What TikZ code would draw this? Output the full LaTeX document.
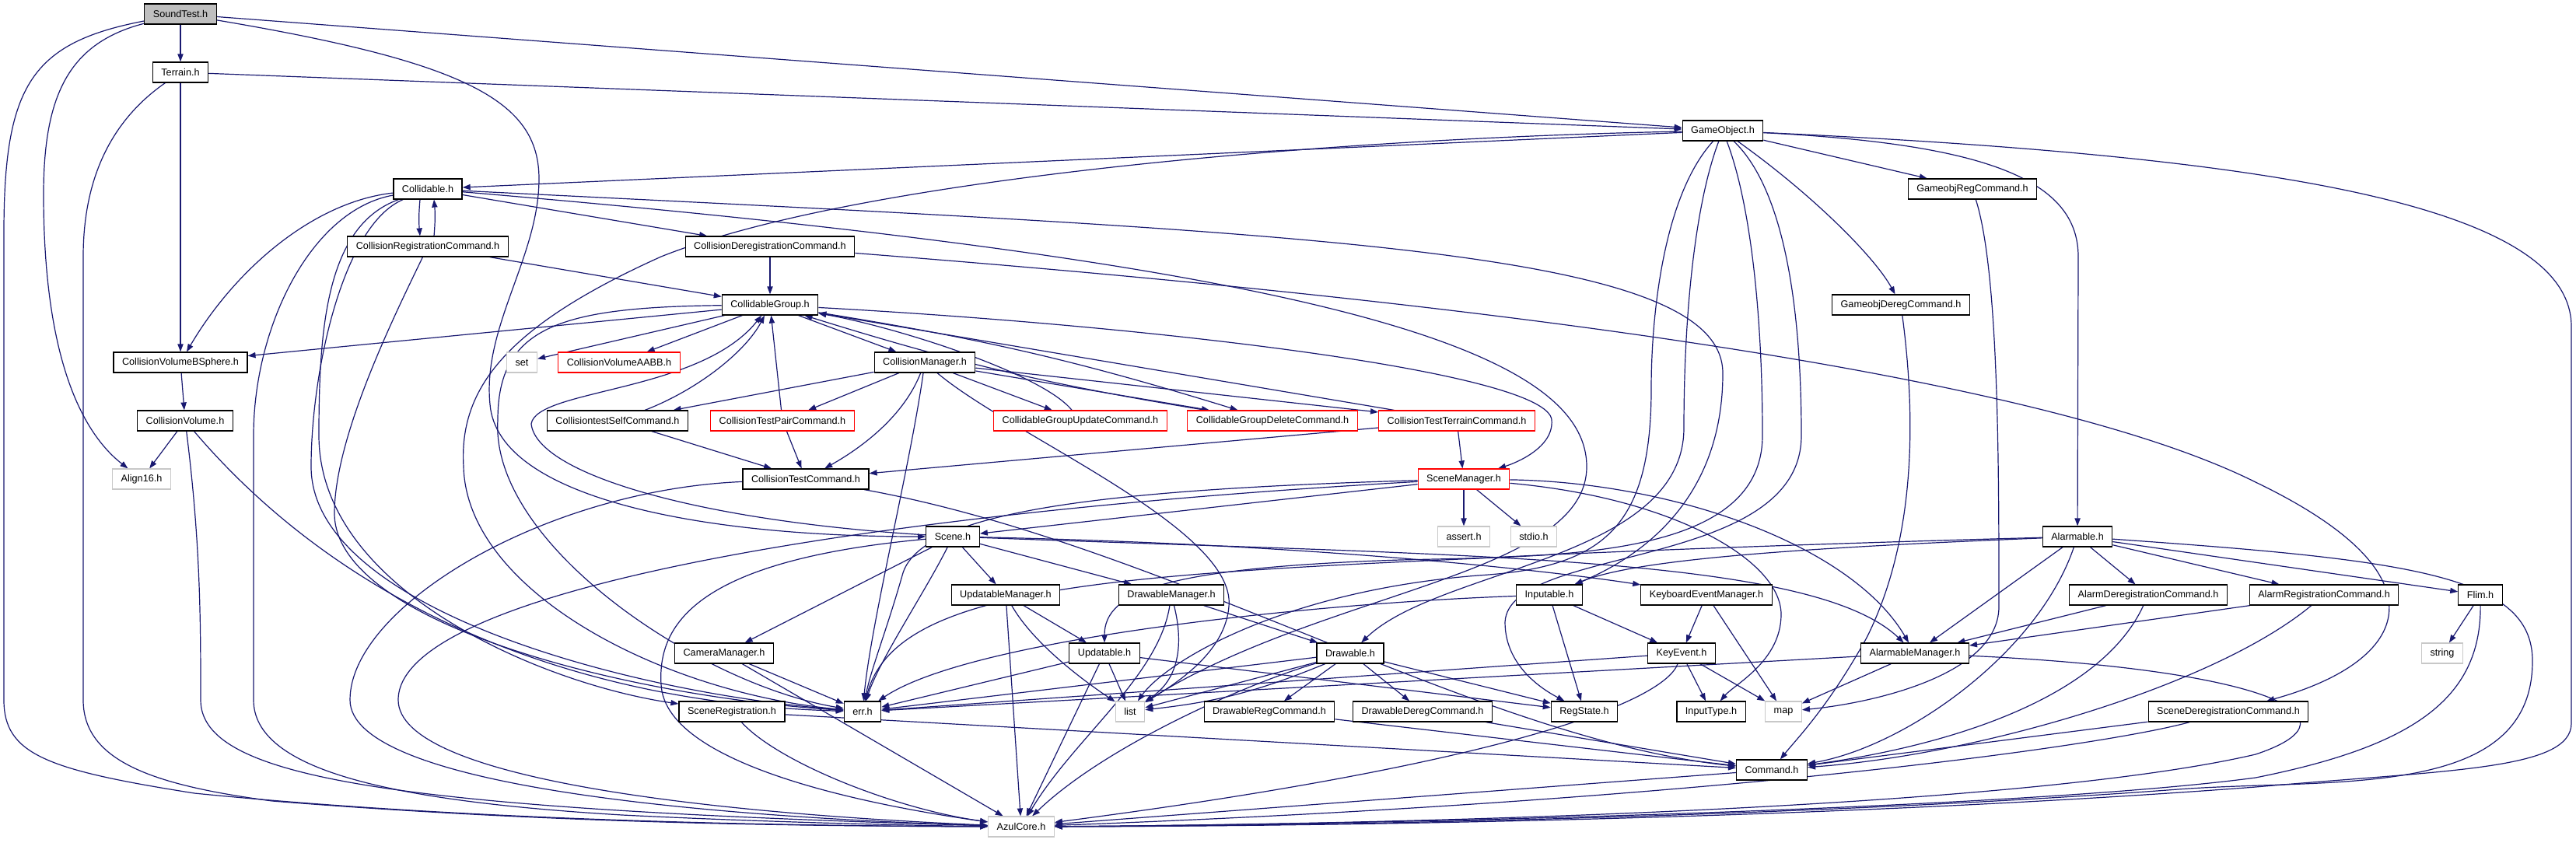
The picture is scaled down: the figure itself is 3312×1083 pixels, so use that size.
\documentclass[tikz,border=0pt]{standalone}
\usepackage{fontspec}
\setmainfont{Liberation Sans}
\usetikzlibrary{arrows.meta}
\definecolor{edgeblue}{HTML}{191970}
\definecolor{rootgray}{HTML}{BFBFBF}
\definecolor{sysgray}{HTML}{C8C8C8}
\pgfdeclarelayer{edges}
\pgfsetlayers{edges,main}

\begin{document}
\begin{tikzpicture}[
    x=0.5pt, y=-0.5pt,
    every node/.style={font=\fontsize{6.33}{7.6}\selectfont},
    file/.style={rectangle, draw=black, line width=0.6pt, fill=white, minimum height=13pt, inner xsep=5.5pt, inner ysep=0pt},
    root/.style={file, fill=rootgray},
    sysfile/.style={file, draw=sysgray},
    trunc/.style={file, draw=red},
    dep/.style={draw=edgeblue, line width=0.6pt, -{Triangle[length=5pt, width=3.6pt]}}
]
\useasboundingbox (0,0) rectangle (3312,1083);

% -------------------------
% Headers, rows 1-6
% -------------------------
    \node[root] (soundtest) at (232,18) {SoundTest.h};
    \node[file] (terrain) at (232,93) {Terrain.h};
    \node[file] (gameobject) at (2215,168) {GameObject.h};
    \node[file] (collidable) at (550,243) {Collidable.h};
    \node[file] (gameobjreg) at (2536,243) {GameobjRegCommand.h};
    \node[file] (collreg) at (550,317) {CollisionRegistrationCommand.h};
    \node[file] (colldereg) at (990,317) {CollisionDeregistrationCommand.h};
    \node[file] (collgroup) at (990,392) {CollidableGroup.h};
    \node[file] (gameobjdereg) at (2444,392) {GameobjDeregCommand.h};

% -------------------------
% Rows 7-9
% -------------------------
    \node[file] (bsphere) at (232,466) {CollisionVolumeBSphere.h};
    \node[sysfile] (set) at (671,466) {set};
    \node[trunc] (aabb) at (796,466) {CollisionVolumeAABB.h};
    \node[file] (collmgr) at (1189,466) {CollisionManager.h};
    \node[file] (collvolume) at (238,541) {CollisionVolume.h};
    \node[file] (selfcmd) at (794,541) {CollisiontestSelfCommand.h};
    \node[trunc] (paircmd) at (1006,541) {CollisionTestPairCommand.h};
    \node[trunc] (grpupdate) at (1389,541) {CollidableGroupUpdateCommand.h};
    \node[trunc] (grpdelete) at (1636,541) {CollidableGroupDeleteCommand.h};
    \node[trunc] (terraincmd) at (1873,541) {CollisionTestTerrainCommand.h};
    \node[sysfile] (align) at (182,616) {Align16.h};
    \node[file] (testcmd) at (1036,616) {CollisionTestCommand.h};
    \node[trunc] (scenemgr) at (1882,616) {SceneManager.h};

% -------------------------
% Rows 10-12
% -------------------------
    \node[file] (scene) at (1225,690) {Scene.h};
    \node[sysfile] (assert) at (1882,690) {assert.h};
    \node[sysfile] (stdio) at (1972,690) {stdio.h};
    \node[file] (alarmable) at (2671,690) {Alarmable.h};
    \node[file] (updmgr) at (1293,765) {UpdatableManager.h};
    \node[file] (drwmgr) at (1506,765) {DrawableManager.h};
    \node[file] (inputable) at (1992,765) {Inputable.h};
    \node[file] (keybmgr) at (2194,765) {KeyboardEventManager.h};
    \node[file] (alarmdereg) at (2762,765) {AlarmDeregistrationCommand.h};
    \node[file] (alarmreg) at (2988,765) {AlarmRegistrationCommand.h};
    \node[file] (flim) at (3189,765) {Flim.h};
    \node[file] (cameramgr) at (931,840) {CameraManager.h};
    \node[file] (updatable) at (1420,840) {Updatable.h};
    \node[file] (drawable) at (1736,840) {Drawable.h};
    \node[file] (keyevent) at (2162,840) {KeyEvent.h};
    \node[file] (alarmmgr) at (2462,840) {AlarmableManager.h};
    \node[sysfile] (string) at (3140,840) {string};

% -------------------------
% Rows 13-15
% -------------------------
    \node[file] (scenereg) at (941,915) {SceneRegistration.h};
    \node[file] (err) at (1109,915) {err.h};
    \node[sysfile] (list) at (1453,915) {list};
    \node[file] (drwreg) at (1632,915) {DrawableRegCommand.h};
    \node[file] (drwdereg) at (1829,915) {DrawableDeregCommand.h};
    \node[file] (regstate) at (2037,915) {RegState.h};
    \node[file] (inputtype) at (2200,915) {InputType.h};
    \node[sysfile] (map) at (2293,915) {map};
    \node[file] (scenedereg) at (2865,915) {SceneDeregistrationCommand.h};
    \node[file] (command) at (2278,990) {Command.h};
    \node[sysfile] (azulcore) at (1313,1063) {AzulCore.h};

\begin{pgfonlayer}{edges}
% -------------------------
% SoundTest.h and Terrain.h
% -------------------------
    \draw[dep] (soundtest) -- (terrain);
    \draw[dep] (soundtest) -- (gameobject);
    \draw[dep] (soundtest) .. controls (600,80) and (693,130) .. (693,230) .. controls (693,330) and (620,420) .. (630,520) .. controls (640,640) and (900,690) .. (scene);
    \draw[dep] (soundtest) .. controls (90,55) and (56,120) .. (56,250) .. controls (56,470) and (110,560) .. (align);
    \draw[dep] (soundtest) .. controls (40,55) and (5,110) .. (5,300) -- (5,900) .. controls (5,970) and (60,990) .. (250,1020) .. controls (600,1055) and (1000,1062) .. (azulcore);
    \draw[dep] (terrain) -- (gameobject);
    \draw[dep] (terrain) -- (bsphere);
    \draw[dep] (terrain) .. controls (150,150) and (107,220) .. (107,330) -- (107,900) .. controls (107,980) and (200,1010) .. (350,1030) .. controls (700,1058) and (1000,1062) .. (azulcore);

% -------------------------
% GameObject.h
% -------------------------
    \draw[dep] (gameobject) -- (collidable);
    \draw[dep] (gameobject) .. controls (1700,178) and (1100,230) .. (850,330) .. controls (650,420) and (590,500) .. (596,600) .. controls (600,760) and (850,890) .. (err);
    \draw[dep] (gameobject) -- (gameobjreg);
    \draw[dep] (gameobject) .. controls (2330,250) and (2410,330) .. (gameobjdereg);
    \draw[dep] (gameobject) .. controls (2550,185) and (2672,230) .. (2672,330) -- (alarmable);
    \draw[dep] (gameobject) .. controls (2900,200) and (3306,260) .. (3306,420) -- (3306,930) .. controls (3306,990) and (3150,990) .. (2900,1012) .. controls (2400,1050) and (1800,1062) .. (azulcore);
    \draw[dep] (gameobject) .. controls (2140,250) and (2123,400) .. (2123,500) .. controls (2123,680) and (2060,730) .. (1900,740) .. controls (1650,760) and (1500,850) .. (list);
    \draw[dep] (gameobject) .. controls (2180,260) and (2165,400) .. (2165,550) .. controls (2165,720) and (1850,730) .. (drawable);
    \draw[dep] (gameobject) .. controls (2250,260) and (2266,400) .. (2266,560) .. controls (2266,720) and (2000,715) .. (1800,720) .. controls (1500,730) and (1420,760) .. (updatable);
    \draw[dep] (gameobject) .. controls (2290,240) and (2316,380) .. (2316,560) .. controls (2316,735) and (1940,700) .. (1935,800) .. controls (1935,860) and (1990,890) .. (regstate);
    \draw[dep] (gameobjreg) .. controls (2570,350) and (2570,600) .. (2570,780) .. controls (2570,870) and (2400,905) .. (map);
    \draw[dep] (gameobjdereg) .. controls (2465,550) and (2460,700) .. (2400,820) .. controls (2350,910) and (2310,950) .. (command);

% -------------------------
% Collidable.h and its commands
% -------------------------
    \draw[dep] ([xshift=-5pt]collidable.south) to[bend right=5] ([xshift=-5pt]collreg.north);
    \draw[dep] ([xshift=4pt]collreg.north) to[bend right=5] ([xshift=4pt]collidable.south);
    \draw[dep] (collidable) -- (colldereg);
    \draw[dep] (collidable) .. controls (400,260) and (300,350) .. (bsphere);
    \draw[dep] (collidable) .. controls (440,290) and (400,480) .. (400,600) .. controls (400,780) and (800,890) .. (err);
    \draw[dep] (collidable) .. controls (420,290) and (410,420) .. (410,560) .. controls (410,760) and (700,880) .. (scenereg);
    \draw[dep] (collidable) .. controls (400,270) and (326,420) .. (326,560) -- (326,900) .. controls (326,990) and (500,1030) .. (800,1048) .. controls (1000,1058) and (1200,1062) .. (azulcore);
    \draw[dep] (collidable) .. controls (1700,300) and (2215,320) .. (2215,480) .. controls (2215,650) and (2100,720) .. (inputable);
    \draw[dep] (collidable) .. controls (1700,340) and (2040,450) .. (2040,600) .. controls (2040,740) and (1700,760) .. (list);
    \draw[dep] (collreg) -- (collgroup);
    \draw[dep] (collreg) .. controls (510,400) and (430,560) .. (430,660) .. controls (430,800) and (800,895) .. (err);
    \draw[dep] (colldereg) -- (collgroup);
    \draw[dep] (colldereg) .. controls (1800,380) and (2600,470) .. (2900,620) .. controls (3150,740) and (3100,850) .. (scenedereg);

% -------------------------
% CollidableGroup.h and CollisionManager.h
% -------------------------
    \draw[dep] (collgroup) -- (bsphere);
    \draw[dep] (collgroup) -- (set);
    \draw[dep] (collgroup) -- (aabb);
    \draw[dep] (collgroup) -- (collmgr);
    \draw[dep] (collgroup) to[bend left=4] (grpdelete);
    \draw[dep] (collgroup) .. controls (1500,420) and (1990,480) .. (1995,540) .. controls (1998,575) and (1950,595) .. (scenemgr);
    \draw[dep] (collgroup) .. controls (720,395) and (640,420) .. (640,540) .. controls (630,700) and (900,880) .. (err);
    \draw[dep] (collmgr) -- (selfcmd);
    \draw[dep] (collmgr) -- (paircmd);
    \draw[dep] (collmgr) -- (grpupdate);
    \draw[dep] (collmgr) -- (grpdelete);
    \draw[dep] (collmgr) -- (terraincmd);
    \draw[dep] (collmgr) .. controls (1160,540) and (1100,580) .. (testcmd);
    \draw[dep] (collmgr) .. controls (1170,600) and (1120,800) .. (err);
    \draw[dep] (collmgr) .. controls (1300,560) and (1590,680) .. (1580,780) .. controls (1575,840) and (1510,880) .. (list);
    \draw[dep] (selfcmd) .. controls (900,500) and (960,450) .. (collgroup);
    \draw[dep] (selfcmd) -- (testcmd);
    \draw[dep] (paircmd) -- (collgroup);
    \draw[dep] (paircmd) -- (testcmd);
    \draw[dep] (grpupdate) .. controls (1340,480) and (1150,420) .. (collgroup);
    \draw[dep] (grpdelete) to[bend left=4] (collgroup);
    \draw[dep] (terraincmd) -- (collgroup);
    \draw[dep] (terraincmd) -- (testcmd);
    \draw[dep] (terraincmd) -- (scenemgr);
    \draw[dep] (testcmd) .. controls (700,630) and (450,780) .. (450,900) .. controls (450,1010) and (900,1050) .. (azulcore);
    \draw[dep] (testcmd) .. controls (1500,700) and (1900,950) .. (command);
    \draw[dep] (bsphere) -- (collvolume);
    \draw[dep] (collvolume) -- (align);
    \draw[dep] (collvolume) .. controls (258,700) and (258,800) .. (258,900) .. controls (258,1000) and (500,1040) .. (azulcore);
    \draw[dep] (collvolume) .. controls (450,790) and (750,905) .. (err);

% -------------------------
% SceneManager.h and Scene.h
% -------------------------
    \draw[dep] (scenemgr) -- (scene);
    \draw[dep] (scenemgr) -- (assert);
    \draw[dep] (scenemgr) -- (stdio);
    \draw[dep] (scenemgr) .. controls (1400,630) and (1180,660) .. (1160,740) .. controls (1140,810) and (1120,860) .. (err);
    \draw[dep] (scenemgr) .. controls (1100,660) and (512,760) .. (512,900) .. controls (512,1000) and (900,1045) .. (azulcore);
    \draw[dep] (scenemgr) .. controls (2150,620) and (2380,700) .. (alarmmgr);
    \draw[dep] (scenemgr) .. controls (2150,640) and (2290,720) .. (2290,790) .. controls (2290,850) and (2230,880) .. (inputtype);
    \draw[dep] (scene) .. controls (900,670) and (690,610) .. (683,545) .. controls (690,500) and (900,505) .. (collgroup);
    \draw[dep] (scene) -- (cameramgr);
    \draw[dep] (scene) -- (updmgr);
    \draw[dep] (scene) -- (drwmgr);
    \draw[dep] (scene) .. controls (1190,760) and (1130,850) .. (err);
    \draw[dep] (scene) .. controls (900,720) and (845,800) .. (850,880) .. controls (855,990) and (1150,1040) .. (azulcore);
    \draw[dep] (scene) .. controls (1700,700) and (2000,735) .. (keybmgr);
    \draw[dep] (scene) .. controls (1900,715) and (2330,715) .. (alarmmgr);
    \draw[dep] (cameramgr) -- (err);
    \draw[dep] (cameramgr) -- (azulcore);
    \draw[dep] (scenereg) .. controls (1000,980) and (1150,1040) .. (azulcore);
    \draw[dep] (scenereg) -- (command);

% -------------------------
% Updatable.h, Drawable.h, Inputable.h
% -------------------------
    \draw[dep] (updmgr) -- (updatable);
    \draw[dep] (updmgr) .. controls (1330,830) and (1400,880) .. (list);
    \draw[dep] (updmgr) -- (azulcore);
    \draw[dep] (drwmgr) -- (drawable);
    \draw[dep] (drwmgr) .. controls (1520,820) and (1520,870) .. (list);
    \draw[dep] (drwmgr) .. controls (1490,870) and (1380,950) .. (azulcore);
    \draw[dep] (updatable) -- (err);
    \draw[dep] (updatable) -- (list);
    \draw[dep] (updatable) -- (azulcore);
    \draw[dep] (updatable) -- (regstate);
    \draw[dep] (drawable) -- (err);
    \draw[dep] (drawable) -- (list);
    \draw[dep] (drawable) to[bend left=8] (list);
    \draw[dep] (drawable) -- (drwreg);
    \draw[dep] (drawable) -- (drwdereg);
    \draw[dep] (drawable) -- (regstate);
    \draw[dep] (drawable) .. controls (1600,880) and (1420,960) .. (azulcore);
    \draw[dep] (drwreg) -- (command);
    \draw[dep] (drwdereg) -- (command);
    \draw[dep] (inputable) .. controls (1700,775) and (1250,820) .. (err);
    \draw[dep] (inputable) -- (regstate);
    \draw[dep] (inputable) -- (keyevent);
    \draw[dep] (keybmgr) -- (keyevent);
    \draw[dep] (keybmgr) -- (map);
    \draw[dep] (keyevent) -- (err);
    \draw[dep] (keyevent) -- (inputtype);
    \draw[dep] (keyevent) -- (map);
    \draw[dep] (keyevent) .. controls (2140,900) and (1950,980) .. (azulcore);

% -------------------------
% Alarmable.h and the rest
% -------------------------
    \draw[dep] (alarmable) -- (alarmmgr);
    \draw[dep] (alarmable) .. controls (2620,840) and (2450,960) .. (command);
    \draw[dep] (alarmable) -- (alarmdereg);
    \draw[dep] (alarmable) -- (alarmreg);
    \draw[dep] (alarmable) -- (flim);
    \draw[dep] (alarmable) .. controls (3100,720) and (3256,740) .. (3256,850) .. controls (3256,1030) and (3000,1000) .. (2800,1015) .. controls (2400,1045) and (1800,1062) .. (azulcore);
    \draw[dep] (alarmable) .. controls (2300,705) and (2100,720) .. (inputable);
    \draw[dep] (alarmable) .. controls (2300,700) and (2000,712) .. (1900,718) .. controls (1400,740) and (1150,760) .. (err);
    \draw[dep] (alarmdereg) -- (alarmmgr);
    \draw[dep] (alarmdereg) .. controls (2700,900) and (2500,960) .. (command);
    \draw[dep] (alarmreg) -- (alarmmgr);
    \draw[dep] (alarmreg) .. controls (2850,880) and (2550,970) .. (command);
    \draw[dep] (alarmmgr) -- (map);
    \draw[dep] (alarmmgr) -- (err);
    \draw[dep] (alarmmgr) .. controls (2900,860) and (3050,920) .. (2900,970) .. controls (2600,1040) and (1800,1060) .. (azulcore);
    \draw[dep] (flim) -- (string);
    \draw[dep] (flim) .. controls (3190,900) and (3100,960) .. (2900,1000) .. controls (2600,1040) and (1800,1060) .. (azulcore);
    \draw[dep] (scenedereg) -- (command);
    \draw[dep] (scenedereg) .. controls (2700,960) and (2200,1030) .. (azulcore);
    \draw[dep] (command) -- (azulcore);
\end{pgfonlayer}
\end{tikzpicture}
\end{document}
